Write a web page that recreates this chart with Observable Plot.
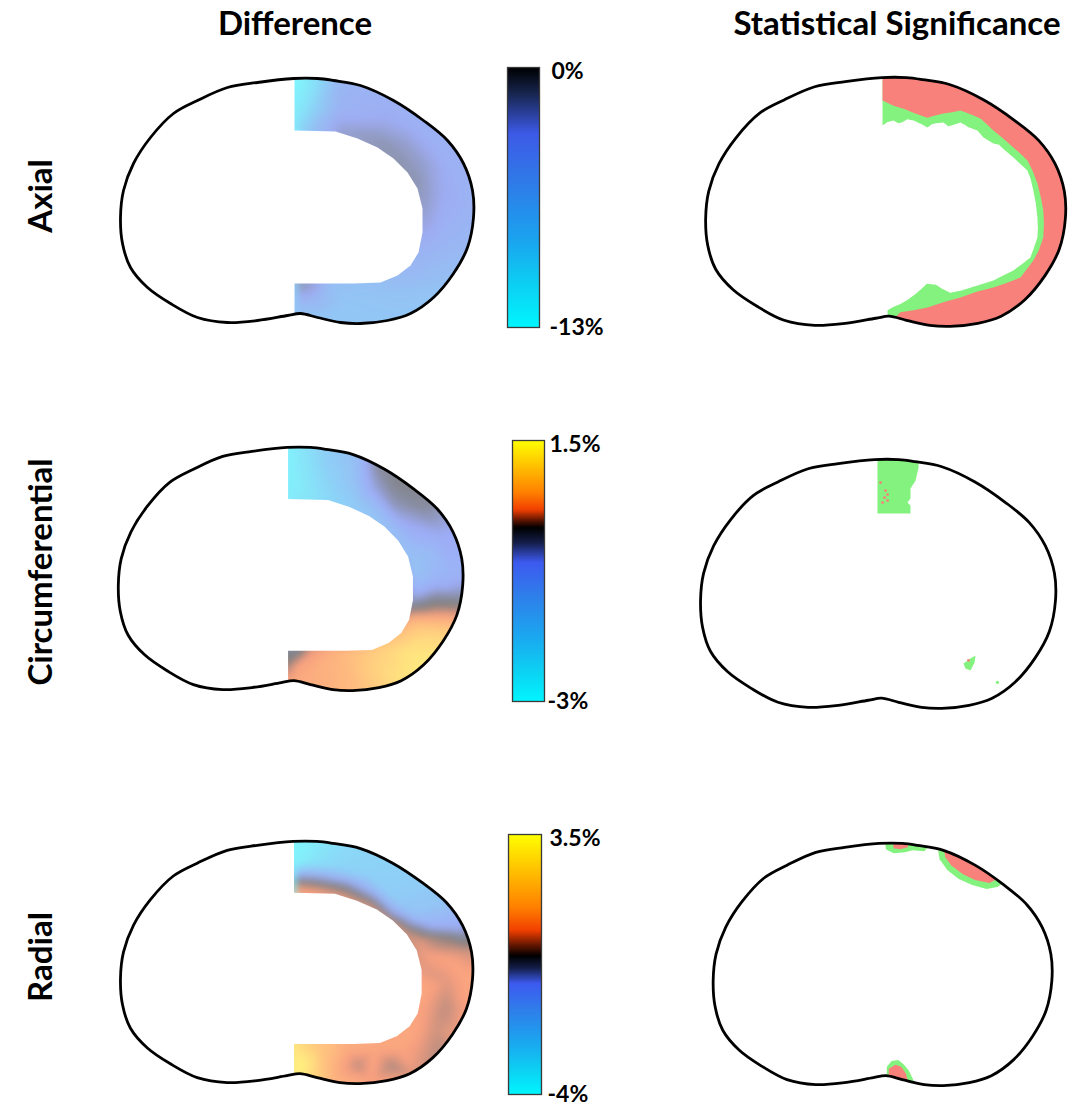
<!DOCTYPE html>
<html><head><meta charset="utf-8">
<script src="https://cdn.jsdelivr.net/npm/d3@7"></script>
<script src="https://cdn.jsdelivr.net/npm/@observablehq/plot@0.6"></script>
<style>
html,body{margin:0;padding:0;background:#fff;}
#fig{position:relative;width:1076px;height:1106px;overflow:hidden;background:#fff;font-family:Lato,"Open Sans",sans-serif;font-weight:700;color:#000;}
.lab{position:absolute;font-size:33px;line-height:1;white-space:nowrap;}
.title{transform:translate(-50%,-50%);}
.rowlab{transform:translate(-50%,-50%) rotate(-90deg);}
</style></head><body><div id="fig"></div>
<script>
// ---------------- data ----------------
const columnTitles = ["Difference", "Statistical Significance"];
const rowNames = ["Axial", "Circumferential", "Radial"];

// disc outline (template, arbitrary units: x 0..353, y 0..245, y downward)
const outline = [[173,0],[197,0],[213,2],[240,7],[273,22],[303,42],[327,62],[343,85],[352,112],[353,139],[347,169],[333,195],[313,219],[290,235],[267,242],[240,245],[220,244],[197,239],[180,235],[167,237],[137,242],[107,244],[77,239],[50,225],[27,209],[10,189],[2,165],[0,139],[3,112],[13,85],[30,59],[53,35],[77,22],[107,9],[137,4]];

// inner (unmapped) region of the difference maps
const innerHole = [[160,52],[174,52],[215,53],[237,60],[257,69],[273,80],[287,94],[297,110],[302,130],[302,154],[298,174],[290,187],[277,197],[260,204],[233,205],[174,205],[160,205]];

// colour bar ticks and labels
const axialTicks = [0, -13], axialTickLabels = ["0%", "-13%"];
const circTicks = [1.5, -3], circTickLabels = ["1.5%", "-3%"];
const radialTicks = [3.5, -4], radialTickLabels = ["3.5%", "-4%"];

// colour maps (value stops -> colours)
const axialStops = [-13, -10.7, -8.5, -5.9, -3.3, -1.3, 0];
const axialColors = ["#00f6ff","#0dcdf2","#1ba2ef","#2e7de8","#3d5ae6","#18254f","#000000"];
const circStops = [-3, -2.46, -1.89, -1.2, -0.6, -0.26, 0, 0.12, 0.31, 0.6, 0.94, 1.5];
const radialStops = [-4, -3.28, -2.52, -1.6, -0.8, -0.35, 0, 0.28, 0.74, 1.4, 2.19, 3.5];
const hotColdColors = ["#00f6ff","#0dd0f2","#1aa8f0","#2e80ea","#3d5af0","#141e48","#000000","#5a1400","#f24000","#ff8000","#ffb000","#ffff00"];

// difference samples [x, y, % difference]
const axialDiff = [[176,4,-12.5],[176,28,-11.5],[176,48,-10],[196,4,-10],[196,28,-8.5],[196,48,-6],[218,6,-5],[218,30,-4.4],[218,52,-2.5],[242,10,-4.2],[242,35,-3.8],[242,58,-2],[266,22,-4],[264,45,-3],[262,67,-1.6],[290,40,-4],[285,62,-2.5],[280,84,-1.5],[315,62,-4],[305,85,-2.5],[296,104,-1.6],[335,92,-4],[318,110,-3],[304,124,-2.2],[348,130,-4.2],[326,138,-3.8],[305,146,-2.8],[345,168,-5],[322,168,-4.6],[300,172,-4.2],[330,200,-6.2],[310,198,-5.8],[290,194,-5],[306,224,-7],[288,214,-6.5],[272,206,-6],[272,238,-7],[258,222,-6.8],[244,208,-6.5],[232,242,-7.2],[226,224,-7],[212,208,-6.2],[200,240,-7],[196,222,-5],[192,208,-2.5],[178,238,-7],[178,222,-4],[178,208,-1.6]];
const circDiff = [[176,4,-2.7],[176,28,-2.7],[176,48,-2.6],[196,4,-2.2],[196,28,-2.3],[196,48,-2.4],[218,6,-1.6],[218,30,-1.8],[218,52,-2.0],[242,10,-1.2],[242,35,-1.3],[242,58,-1.6],[262,18,-0.3],[262,40,-0.5],[262,66,-1.3],[285,35,-0.1],[282,60,-0.4],[280,84,-1.2],[310,58,-0.2],[300,85,-0.7],[294,104,-1.2],[332,90,-0.6],[318,108,-1.1],[303,124,-1.3],[347,125,-0.8],[325,132,-0.9],[304,142,-0.9],[348,148,-0.35],[324,152,-0.2],[302,156,-0.3],[345,165,0.2],[322,168,0.3],[298,170,0.35],[335,190,0.9],[312,188,0.9],[290,190,0.7],[316,214,1.2],[296,206,1.1],[276,204,0.9],[290,232,1.1],[266,226,0.9],[250,208,0.7],[248,242,0.6],[236,226,0.55],[222,208,0.5],[206,242,0.45],[202,224,0.45],[196,208,0.3],[178,238,0.4],[178,222,0.3],[178,208,-0.2]];
const radialDiff = [[176,4,-3.8],[176,22,-3.6],[176,36,-0.6],[176,48,0.8],[196,4,-3.4],[198,22,-3.0],[198,38,-0.5],[198,50,0.7],[222,8,-2.8],[222,26,-2.6],[226,44,-0.4],[226,56,0.6],[250,15,-2.5],[250,35,-2.4],[252,55,-0.6],[252,66,0.5],[276,28,-2.4],[272,55,-2.2],[272,76,-0.3],[278,86,0.5],[300,45,-2.2],[295,72,-1.8],[288,92,0.4],[320,65,-1.8],[312,85,-1.0],[300,100,0.6],[338,88,-0.8],[325,98,0.1],[304,112,0.7],[348,112,0.5],[326,118,0.8],[304,130,0.6],[350,140,0.9],[328,142,0.6],[304,150,0.9],[348,168,0.8],[326,168,0.4],[302,170,0.8],[338,195,0.7],[316,192,0.5],[292,192,0.9],[322,220,0.3],[302,214,0.6],[280,208,0.9],[294,236,0.6],[272,228,0.3],[256,210,0.9],[250,242,0.8],[238,226,0.4],[226,210,1.0],[212,242,1.2],[206,224,1.4],[200,208,1.6],[190,238,2.4],[190,222,2.6],[178,240,3.0],[178,224,3.2],[178,208,2.4]];

// significance regions (polygons, same template units)
const axialSigGreen = [[[173.6,-12],[173.6,47.2],[178,44],[184.4,42.3],[189,45],[193,44],[198,41],[204,42.3],[212,46],[217.7,49.2],[222,46],[226,45],[233.4,44.3],[238,48],[242,47],[250.1,44.3],[255,47],[258,49],[266.7,52.2],[272.6,59],[282.4,64.9],[288,66],[292,70],[302,78.7],[310,86],[315.8,91.5],[319,100],[321.6,111.2],[324,124],[325.6,137.8],[326,148],[325.6,157.4],[322,168],[318.7,177.1],[310,184],[302,189.9],[292,195],[282.4,199.8],[266,205],[250.1,210],[240,212],[232,208],[226,204],[217,203],[213,207],[206,213],[198,219],[191.2,223],[184,226],[178.5,229.2],[178.5,262],[368,262],[368,-12]]];
const axialSigRed = [[[173.6,-12],[173.6,22.6],[184.4,27.6],[195,31],[205,35],[217.7,39.4],[226,37],[233.4,35.4],[242,34],[250.1,32.5],[260,36],[269.7,40.3],[276,46],[282.4,52.2],[292,60],[302,68.9],[309,75],[315.8,81.7],[321,92],[325.6,104.3],[329,118],[331.4,130.9],[332,144],[331.4,157.4],[327,170],[321.6,180.1],[315,189],[308.9,196.8],[296,202],[282.4,206.6],[266,211],[250.1,216.5],[234,221],[217.7,226.3],[204,229],[191.2,231.2],[186,236],[186,262],[368,262],[368,-12]]];
const circSigGreen = [[[176,-12],[216.8,-12],[216.8,7.9],[213.8,20.7],[208.8,28.5],[208.8,38.4],[205.8,42.3],[208.8,45.3],[208.8,53.1],[176,53.1]],[[263.5,205.7],[261.5,200.7],[268.5,195.8],[273.5,192.9],[272.5,199.8],[268.5,207.6]]];
const circSigGreenSpecks = [[295.3,219.4]];
const circSigRedSpecks = [[179,22.6],[184,30.5],[186,34.4],[181,42.3],[186,40.3],[183,37.4],[266.5,197.8]];
const radialSigGreen = [[[179,-8],[225,-8],[225,3],[220,8],[208,7],[200,9],[188,10],[180,6]],[[234,4],[245,2],[265,8],[285,20],[300,32],[303,40],[296,44],[285,46],[270,42],[256,36],[244,27],[236,16]],[[181,250],[181,226],[186,220],[193,219],[199,224],[204,230],[209,240],[209,250]]];
const radialSigRed = [[[187,-8],[203,-8],[203,4],[195,6],[188,5]],[[240,3],[265,8],[290,24],[296,36],[288,40],[273,37],[260,31],[248,22],[242,14]],[[183,248],[183,228],[190,224],[196,226],[201,233],[205,248]]];

// ---------------- drawing ----------------
const fig = document.getElementById("fig");
const RED = "#f8817b", GREEN = "#84f27e";
const W0 = 353, H0 = 245, PAD = 8;
let clipId = 0;

function polys(list) {
  return list.flatMap((poly, k) => poly.map(([x, y]) => ({x, y, k})));
}

function placeDisc(box, marks, color) {
  const sx = box.w / W0, sy = box.h / H0;
  const width = Math.round((W0 + 2 * PAD) * sx), height = Math.round((H0 + 2 * PAD) * sy);
  const svg = Plot.plot({
    width, height, margin: 0,
    style: {background: "transparent", overflow: "visible"},
    x: {domain: [-PAD, W0 + PAD], range: [0, width], axis: null},
    y: {domain: [-PAD, H0 + PAD], range: [0, height], axis: null},
    color,
    marks: [
      ...marks,
      Plot.line(outline, {x: d => d[0], y: d => d[1], curve: "catmull-rom-closed", stroke: "#000", strokeWidth: 2.8, strokeLinejoin: "round"})
    ]
  });
  // clip all content marks to the disc outline drawn by the last mark
  const groups = Array.from(svg.querySelectorAll(":scope > g"));
  const outlineG = groups[groups.length - 1];
  const d = outlineG.querySelector("path").getAttribute("d");
  const ns = "http://www.w3.org/2000/svg";
  const id = "discclip" + (clipId++);
  const defs = document.createElementNS(ns, "defs");
  const cp = document.createElementNS(ns, "clipPath");
  cp.setAttribute("id", id);
  const p = document.createElementNS(ns, "path");
  p.setAttribute("d", d);
  if (outlineG.getAttribute("transform")) p.setAttribute("transform", outlineG.getAttribute("transform"));
  cp.appendChild(p); defs.appendChild(cp);
  svg.insertBefore(defs, svg.firstChild);
  groups.slice(0, -1).forEach(g => g.setAttribute("clip-path", `url(#${id})`));
  svg.style.position = "absolute";
  svg.style.left = (box.x - PAD * sx) + "px";
  svg.style.top = (box.y - PAD * sy) + "px";
  fig.appendChild(svg);
}

function diffMarks(samples) {
  return [
    Plot.raster(samples, {x: d => d[0], y: d => d[1], fill: d => d[2], interpolate: "barycentric", blur: 3,
      x1: 174, x2: W0 + PAD, y1: -PAD, y2: H0 + PAD, fillOpacity: 0.5}),
    Plot.line(innerHole, {x: d => d[0], y: d => d[1], fill: "white", stroke: "none", curve: "linear-closed"})
  ];
}

function sigMarks(green, red, greenSpecks = [], redSpecks = []) {
  return [
    Plot.line(polys(green), {x: "x", y: "y", z: "k", fill: GREEN, stroke: "none", curve: "linear-closed"}),
    Plot.dot(greenSpecks, {x: d => d[0], y: d => d[1], r: 1.6, fill: GREEN, stroke: "none"}),
    Plot.line(polys(red), {x: "x", y: "y", z: "k", fill: RED, stroke: "none", curve: "linear-closed"}),
    Plot.dot(redSpecks, {x: d => d[0], y: d => d[1], r: 1.4, fill: RED, stroke: "none"})
  ];
}

function placeColorbar(bar, stops, colors, ticks, labels) {
  const mt = 16, mb = 16, ml = 2, mr = 80;
  const svg = Plot.plot({
    width: ml + bar.w + mr, height: mt + bar.h + mb,
    marginTop: mt, marginBottom: mb, marginLeft: ml, marginRight: mr,
    style: {background: "transparent", overflow: "visible", fontFamily: "Lato, 'Open Sans', sans-serif"},
    x: {domain: [0, 1], axis: null},
    y: {domain: [stops[0], stops[stops.length - 1]], axis: null},
    color: {type: "linear", domain: stops, range: colors, interpolate: "rgb"},
    marks: [
      Plot.raster({fill: (x, y) => y, x1: 0, x2: 1, y1: stops[0], y2: stops[stops.length - 1]}),
      Plot.frame({stroke: "#3a3a3a", strokeWidth: 1.3}),
      Plot.text([0], {y: () => ticks[0], text: () => labels[0], frameAnchor: "right", dx: bar.dx, dy: 4, textAnchor: "start", fontSize: 23, fontWeight: "bold", fill: "#000"}),
      Plot.text([1], {y: () => ticks[1], text: () => labels[1], frameAnchor: "right", dx: bar.dx - 2, dy: 0, textAnchor: "start", fontSize: 23, fontWeight: "bold", fill: "#000"})
    ]
  });
  svg.style.position = "absolute";
  svg.style.left = (bar.x - ml) + "px";
  svg.style.top = (bar.y - mt) + "px";
  fig.appendChild(svg);
}

// titles
[[columnTitles[0], 295, 22], [columnTitles[1], 897, 22]].forEach(([t, x, y]) => {
  const el = document.createElement("div");
  el.className = "lab title"; el.textContent = t;
  el.style.left = x + "px"; el.style.top = y + "px";
  fig.appendChild(el);
});
[[rowNames[0], 39, 196], [rowNames[1], 39, 572], [rowNames[2], 39, 957]].forEach(([t, x, y]) => {
  const el = document.createElement("div");
  el.className = "lab rowlab"; el.textContent = t;
  el.style.left = x + "px"; el.style.top = y + "px";
  fig.appendChild(el);
});

const axialColor = {type: "linear", domain: axialStops, range: axialColors, interpolate: "rgb"};
const circColor = {type: "linear", domain: circStops, range: hotColdColors, interpolate: "rgb"};
const radialColor = {type: "linear", domain: radialStops, range: hotColdColors, interpolate: "rgb"};

// difference maps
placeDisc({x: 120, y: 78, w: 353, h: 245}, diffMarks(axialDiff), axialColor);
placeDisc({x: 118, y: 447, w: 344, h: 243}, diffMarks(circDiff), circColor);
placeDisc({x: 120, y: 841, w: 352, h: 242}, diffMarks(radialDiff), radialColor);

// significance maps
placeDisc({x: 705, y: 77, w: 360, h: 249}, sigMarks(axialSigGreen, axialSigRed));
placeDisc({x: 700, y: 459, w: 355, h: 249}, sigMarks(circSigGreen, [], circSigGreenSpecks, circSigRedSpecks));
placeDisc({x: 713, y: 843, w: 339, h: 242}, sigMarks(radialSigGreen, radialSigRed));

// colour bars
placeColorbar({x: 507, y: 67, w: 32, h: 260, dx: 12}, axialStops, axialColors, axialTicks, axialTickLabels);
placeColorbar({x: 512, y: 440, w: 32, h: 261, dx: 5}, circStops, hotColdColors, circTicks, circTickLabels);
placeColorbar({x: 508, y: 834, w: 33, h: 260, dx: 8}, radialStops, hotColdColors, radialTicks, radialTickLabels);
</script>
</body></html>
